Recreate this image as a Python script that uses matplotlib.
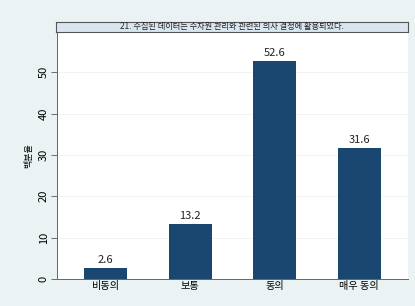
import numpy as np
import matplotlib
matplotlib.use("Agg")
import matplotlib.pyplot as plt

plt.rcParams['font.family'] = ['Noto Sans CJK KR', 'DejaVu Sans']

categories = ['비동의', '보통', '동의', '매우 동의']
percents = [2.6, 13.2, 52.6, 31.6]
title = '21. 수집된 데이터는 수자원 관리와 관련된 의사 결정에 활용되었다.'

W, H = 415, 306
fig = plt.figure(figsize=(W / 100, H / 100), dpi=100)
fig.patch.set_facecolor('#eaf2f3')

# plot region
ax = fig.add_axes([57 / W, (H - 279) / H, (408 - 57) / W, (279 - 32) / H])
ax.set_facecolor('white')
x = np.arange(len(categories))
ax.bar(x, percents, width=0.51, color='#1a476f', zorder=3)
for xi, v in zip(x, percents):
    ax.text(xi, v + 0.9, f'{v:.1f}', ha='center', va='bottom', fontsize=8, color='#222222')

ax.set_xlim(-0.575, 3.575)
ax.set_ylim(0, 59.7)
ax.set_yticks([0, 10, 20, 30, 40, 50])
ax.set_yticklabels(['0', '10', '20', '30', '40', '50'], rotation=90, va='center', fontsize=8)
ax.set_xticks(x)
ax.set_xticklabels(categories, fontsize=7.3)
ax.tick_params(axis='x', length=0, pad=1.5)
ax.tick_params(axis='y', length=4, width=0.6, color='#555555', pad=2)
ax.yaxis.grid(True, color='#eef0f2', linewidth=0.6, zorder=0)
for s in ['top', 'right']:
    ax.spines[s].set_visible(False)
for s in ['left', 'bottom']:
    ax.spines[s].set_color('#666666')
    ax.spines[s].set_linewidth(0.7)
ax.set_ylabel('백분율', fontsize=6.5, labelpad=4)

# title strip
sx = fig.add_axes([56 / W, (H - 32) / H, (408 - 56) / W, (32 - 22) / H])
sx.set_facecolor('#d9e6ef')
sx.set_xticks([])
sx.set_yticks([])
for s in sx.spines.values():
    s.set_color('#555555')
    s.set_linewidth(0.8)
sx.text(0.5, 0.5, title, ha='center', va='center', fontsize=5.9, color='#222222',
        transform=sx.transAxes)

fig.savefig('out.png', dpi=100, facecolor=fig.get_facecolor())
